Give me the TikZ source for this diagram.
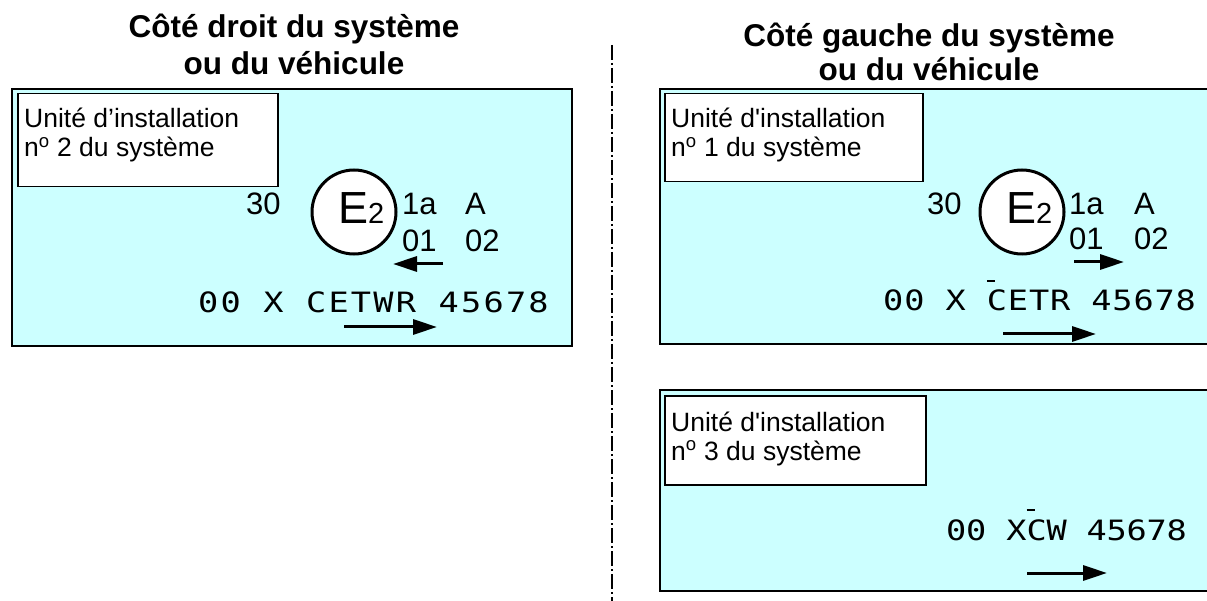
\documentclass[tikz,border=0pt]{standalone}
\usepackage{fontspec}
\setmainfont{Liberation Sans}
\newfontfamily\platefont[FakeStretch=1.2]{DejaVu Sans Mono}
\usetikzlibrary{arrows.meta}

\definecolor{platecyan}{HTML}{CCFFFF}

% C with the short bar on top
\newcommand{\barC}{\rlap{\raisebox{1.02em}{\rule{0.3em}{0.07em}}}C}

\tikzset{
  platebox/.style={draw=black, fill=platecyan, line width=2pt, anchor=north west, inner sep=0pt},
  labelbox/.style={draw=black, fill=white, line width=1.5pt, anchor=north west, inner sep=0pt},
  labeltext/.style={anchor=base west, inner sep=0pt, align=left,
    font=\fontsize{26.5}{29}\selectfont},
  titletext/.style={anchor=base, inner sep=0pt, font=\fontsize{31.5}{36}\selectfont\bfseries},
  marktext/.style={anchor=base west, inner sep=0pt, font=\fontsize{31}{31}\selectfont},
  platetext/.style={anchor=base west, inner sep=0pt, font=\platefont\fontsize{28}{30}\selectfont},
  emark/.style={draw=black, fill=white, circle, line width=3pt, minimum size=84pt, inner sep=0pt},
  dirarrow/.style={line width=3pt, -{Triangle[length=24pt, width=15pt]}}
}

\begin{document}
\begin{tikzpicture}[x=1pt, y=-1pt]
      \useasboundingbox (0,0) rectangle (1207,601);

      \pgfmathsetmacro{\divx}{612};

      % titles
      \node[titletext] (droitA) at (294,38) {Côté droit du système};
      \node[titletext] (droitB) at (294,75) {ou du véhicule};
      \node[titletext] (gaucheA) at (929,47) {Côté gauche du système};
      \node[titletext] (gaucheB) at (929,81) {ou du véhicule};

      % dividing line
      \draw[line width=1.5pt, dash pattern=on 15pt off 3pt on 2pt off 3pt]
      (\divx,45) -- (\divx,601);

      % right side of the system: installation unit 2
      \node[platebox, minimum width=560pt, minimum height=257pt] (droitplate) at (11,88) {};
      \node[labelbox, minimum width=260pt, minimum height=93pt] (droitlabel) at (17,93) {};
      \node[labeltext] (droitunit) at (24,157) {Unité d’installation\\n\textsuperscript{o} 2 du système};

      \node[emark] (droitcircle) at (354,212) {};
      \node[anchor=base west, inner sep=0pt] (droitE) at (338,224)
      {\fontsize{45}{45}\selectfont E\fontsize{29}{29}\selectfont 2};
      \node[marktext] (droitnum) at (246,215) {30};
      \node[marktext] (droitclass) at (402,215) {1a};
      \node[marktext] (droitcat) at (465,215) {A};
      \node[marktext] (droitseries) at (402,252) {01};
      \node[marktext] (droitrev) at (465,252) {02};
      \node[platetext] (droitcode) at (198,313)
      {\addfontfeature{LetterSpace=8}00 X CETWR 45678};

      \draw[dirarrow] (443,264) -- (393,264);
      \draw[dirarrow] (344,327) -- (437,327);

      % left side of the system: installation unit 1
      \node[platebox, minimum width=556pt, minimum height=255pt] (gaucheplate) at (659,88) {};
      \node[labelbox, minimum width=258pt, minimum height=88pt] (gauchelabel) at (664,93) {};
      \node[labeltext] (gaucheunit) at (671,157) {Unité d\textquotesingle installation\\n\textsuperscript{o} 1 du système};

      \node[emark] (gauchecircle) at (1022,212) {};
      \node[anchor=base west, inner sep=0pt] (gaucheE) at (1006,224)
      {\fontsize{45}{45}\selectfont E\fontsize{29}{29}\selectfont 2};
      \node[marktext] (gauchenum) at (927,215) {30};
      \node[marktext] (gaucheclass) at (1069,215) {1a};
      \node[marktext] (gauchecat) at (1134,215) {A};
      \node[marktext] (gaucheseries) at (1069,250) {01};
      \node[marktext] (gaucherev) at (1134,250) {02};
      \node[platetext] (gauchecode) at (883,311)
      {\addfontfeature{LetterSpace=3}00 X \barC ETR 45678};

      \draw[dirarrow] (1074,262) -- (1124,262);
      \draw[dirarrow] (1003,334) -- (1096,334);

      % left side of the system: installation unit 3
      \node[platebox, minimum width=556pt, minimum height=201pt] (troisplate) at (659,389) {};
      \node[labelbox, minimum width=261pt, minimum height=89pt] (troislabel) at (664,395) {};
      \node[labeltext] (troisunit) at (671,460) {Unité d\textquotesingle installation\\n\textsuperscript{o} 3 du système};

      \node[platetext] (troiscode) at (946,540)
      {\addfontfeature{LetterSpace=-1}00 X\barC W 45678};

      \draw[dirarrow] (1027,573) -- (1107,573);
    \end{tikzpicture}
\end{document}
